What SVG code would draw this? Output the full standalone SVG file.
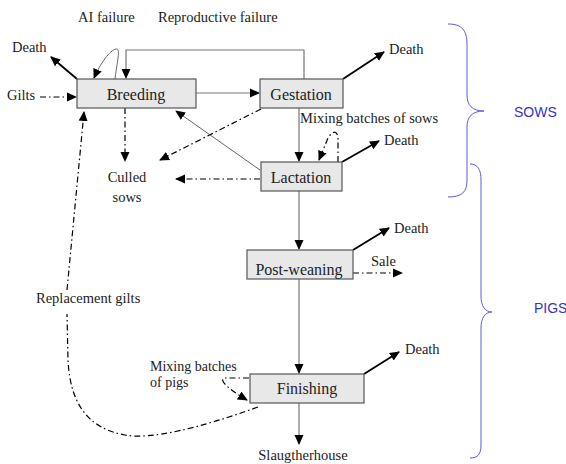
<svg xmlns="http://www.w3.org/2000/svg" width="566" height="464" viewBox="0 0 566 464">
<defs>
<marker id="ah" markerWidth="10" markerHeight="10" refX="9" refY="5" orient="auto" markerUnits="userSpaceOnUse"><path d="M0,0.5 L10,5 L0,9.5 Z" fill="#000"/></marker>
<style>
.box{fill:#e8e8e8;stroke:#555;stroke-width:1.2}
.lbl{font-family:"Liberation Serif",serif;font-size:16px;fill:#222;text-anchor:middle}
.t{font-family:"Liberation Serif",serif;font-size:14.5px;fill:#222}
.g{fill:none;stroke:#777;stroke-width:1.2}
.th{fill:none;stroke:#555;stroke-width:0.9}
.k{fill:none;stroke:#000;stroke-width:1.8}
.dd{fill:none;stroke:#000;stroke-width:1.2;stroke-dasharray:6,3,1.5,3}
.br{fill:none;stroke:#5a5ae0;stroke-width:1}
.side{font-family:"Liberation Sans",Arial,sans-serif;font-size:14px;fill:#3333cc}
</style>
</defs>
<rect width="566" height="464" fill="#fff"/>
<g id="connectors">
<path class="g" d="M196,93 L259,93" marker-end="url(#ah)"/>
<path class="g" d="M304,79 L304,50 L126,50 L126,78" marker-end="url(#ah)"/>
<path class="th" d="M115,79 C117,62 121,48 116,49 C110,50 100,64 94,78" marker-end="url(#ah)"/>
<path class="k" d="M77,79 L51,57" marker-end="url(#ah)"/>
<path class="dd" d="M40,97 L76,97" marker-end="url(#ah)"/>
<path class="dd" d="M125,108 L125,161" marker-end="url(#ah)"/>
<path class="dd" d="M261,109 L160,160" marker-end="url(#ah)"/>
<path class="th" d="M260,170 L176,111" marker-end="url(#ah)"/>
<path class="dd" d="M260,179 L176,179" marker-end="url(#ah)"/>
<path class="g" d="M299,108 L299,161" marker-end="url(#ah)"/>
<path class="k" d="M343,79 L384,52" marker-end="url(#ah)"/>
<path class="dd" d="M338,162 L338,140 C338,130 333,130 328,138 L319,160" marker-end="url(#ah)"/>
<path class="k" d="M342,162 L379,141" marker-end="url(#ah)"/>
<path class="g" d="M299,191 L299,249" marker-end="url(#ah)"/>
<path class="k" d="M353,250 L389,228" marker-end="url(#ah)"/>
<path class="dd" d="M353,273 L402,273" marker-end="url(#ah)"/>
<path class="g" d="M299,279 L299,373" marker-end="url(#ah)"/>
<path class="k" d="M364,374 L399,352" marker-end="url(#ah)"/>
<path class="g" d="M299,403 L299,444" marker-end="url(#ah)"/>
<path class="dd" d="M249,378 L224,378 C219,380 228,389 247,400" marker-end="url(#ah)"/>
<path class="dd" d="M258,407 C200,428 150,440 125,435 C85,428 70,400 68,360 L67,314"/>
<path class="dd" d="M67,290 L84,112" marker-end="url(#ah)"/>
</g>
<g id="breeding"><rect class="box" x="77" y="79" width="119" height="29"/><text class="lbl" x="136" y="100">Breeding</text></g>
<g id="gestation"><rect class="box" x="260" y="79" width="83" height="29"/><text class="lbl" x="301" y="100">Gestation</text></g>
<g id="lactation"><rect class="box" x="261" y="162" width="81" height="29"/><text class="lbl" x="301" y="183">Lactation</text></g>
<g id="postweaning"><rect class="box" x="247" y="250" width="106" height="29"/><text class="lbl" x="299" y="275">Post-weaning</text></g>
<g id="finishing"><rect class="box" x="250" y="374" width="114" height="29"/><text class="lbl" x="307" y="394">Finishing</text></g>
<g id="labels">
<text class="t" x="78" y="22">AI failure</text>
<text class="t" x="158" y="22">Reproductive failure</text>
<text class="t" x="12" y="52">Death</text>
<text class="t" x="7" y="100">Gilts</text>
<text class="t" x="389" y="54">Death</text>
<text class="t" x="300" y="123">Mixing batches of sows</text>
<text class="t" x="384" y="145">Death</text>
<text class="t" x="127" y="182" text-anchor="middle">Culled</text>
<text class="t" x="127" y="202" text-anchor="middle">sows</text>
<text class="t" x="394" y="233">Death</text>
<text class="t" x="371" y="266">Sale</text>
<text class="t" x="36" y="303">Replacement gilts</text>
<text class="t" x="150" y="371" style="font-size:14px">Mixing batches</text>
<text class="t" x="150" y="387" style="font-size:14px">of pigs</text>
<text class="t" x="405" y="354">Death</text>
<text class="t" x="303" y="460" text-anchor="middle">Slaugtherhouse</text>
</g>
<g id="braces">
<path class="br" d="M448,24 C462,24 467,30 467,45 L467,95 C467,105 472,111 484,111 C472,111 467,117 467,127 L467,180 C467,192 462,197 448,197"/>
<path class="br" d="M470,164 C478,164 481,170 481,180 L481,296 C481,306 485,312 492,312 C485,312 481,318 481,328 L481,445 C481,454 478,458 470,458"/>
<text class="side" x="514" y="117">SOWS</text>
<text class="side" x="534" y="313">PIGS</text>
</g>
</svg>
